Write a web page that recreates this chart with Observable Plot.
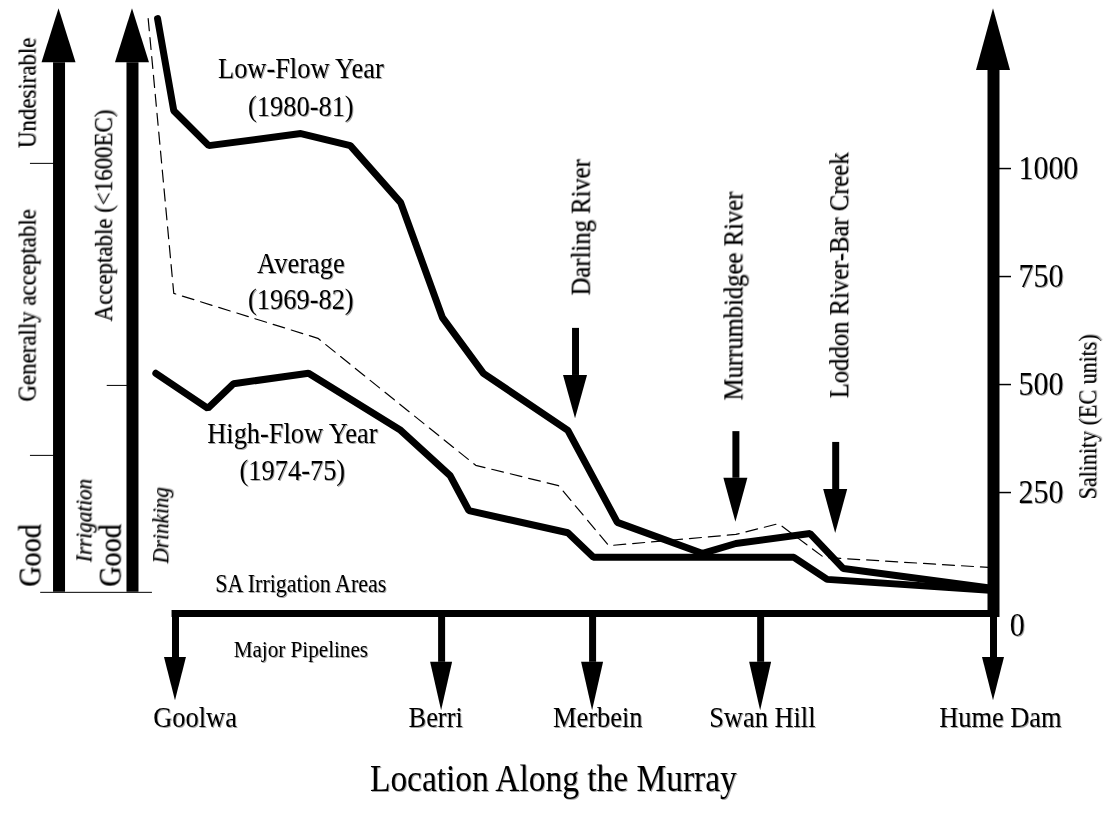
<!DOCTYPE html>
<html><head><meta charset="utf-8">
<script src="https://cdn.jsdelivr.net/npm/d3@7"></script>
<script src="https://cdn.jsdelivr.net/npm/@observablehq/plot@0.6"></script>
<style>
body{margin:0;background:#fff;}
#chart svg text{filter: drop-shadow(1.5px 1.5px 0.6px rgba(0,0,0,0.35));}
</style></head><body><div id="chart"></div>
<script>
// x = relative position along the Murray (0..100, Hume Dam = 100), y = salinity (EC units)
const lowFlowX  = [2.0, 3.9, 8.0, 18.8, 24.6, 30.5, 35.4, 40.2, 50.1, 55.9, 65.9, 69.8, 78.5, 82.4, 100];
const lowFlowY  = [1347, 1134, 1053, 1081, 1053, 921, 655, 526, 394, 181, 109, 132, 155, 74, 28];
const averageX  = [0.9, 3.9, 20.8, 39.3, 49.0, 54.9, 69.8, 74.8, 80.1, 100];
const averageY  = [1347, 711, 607, 313, 266, 127, 153, 178, 100, 76];
const highFlowX = [1.8, 7.9, 10.9, 19.7, 30.5, 36.3, 38.5, 50.1, 53.1, 76.6, 80.5, 100];
const highFlowY = [526, 445, 502, 526, 394, 289, 208, 157, 100, 100, 49, 23];

const locations      = ["Goolwa", "Berri", "Merbein", "Swan Hill", "Hume Dam"];
const locationLabelX = [6.4, 34.6, 53.6, 72.9, 100.8];
const pipelineX      = [4.1, 35.3, 53.0, 72.7, 100];
const pipelineBase   = [-132, -143, -143, -143, -132];
const pipelineTip    = [-232, -255, -255, -255, -232];

const yTicks = [250, 500, 750, 1000];

const tributaries = ["Darling River", "Murrumbidgee River", "Loddon River-Bar Creek"];
const tribX      = [51.0, 69.8, 81.5];
const tribTop    = [630, 391, 366];
const tribBase   = [521, 283, 257];
const tribTip    = [421, 181, 155];
const tribLabelX = [51.6, 69.5, 81.9];
const tribLabelY = [706, 463, 468];

// left quality scales (irrigation / drinking)
const scaleArrowX = [-9.55, -0.94];
const scaleBottom = 19, scaleHeadBase = 1245, scaleTip = 1370;
const irrigationTicks = [1012, 336];
const drinkingTicks = [498];
const axisHeadBase = 1227, axisTip = 1370;

const seriesLabels = [
  {t: "Low-Flow Year", x: 18.8, y: 1232}, {t: "(1980-81)", x: 18.8, y: 1144},
  {t: "Average", x: 18.8, y: 780}, {t: "(1969-82)", x: 18.8, y: 697},
  {t: "High-Flow Year", x: 17.8, y: 387}, {t: "(1974-75)", x: 17.8, y: 301}
];
const scaleLabels = [
  {t: "Undesirable", x: -13.25, y: 1175, s: 26},
  {t: "Generally acceptable", x: -13.25, y: 683, s: 26},
  {t: "Good", x: -12.9, y: 104, s: 32},
  {t: "Good", x: -3.5, y: 104, s: 32},
  {t: "Acceptable (<1600EC)", x: -4.3, y: 891, s: 26}
];
const scaleItalic = [
  {t: "Irrigation", x: -6.7, y: 185},
  {t: "Drinking", x: 2.3, y: 174}
];

const lowFlow  = lowFlowX.map((x, i) => ({x, y: lowFlowY[i]}));
const average  = averageX.map((x, i) => ({x, y: averageY[i]}));
const highFlow = highFlowX.map((x, i) => ({x, y: highFlowY[i]}));

const heads = [
  ...pipelineX.map((x, i) => ({x, base: pipelineBase[i], tip: pipelineTip[i], w: 22})),
  ...tribX.map((x, i) => ({x, base: tribBase[i], tip: tribTip[i], w: 24})),
  ...scaleArrowX.map(x => ({x, base: scaleHeadBase, tip: scaleTip, w: 34})),
  {x: 100, base: axisHeadBase, tip: axisTip, w: 34}
];
const headMark = (index, scales) => {
  const g = d3.create("svg:g");
  for (const h of heads) {
    const x = scales.x(h.x), yb = scales.y(h.base), yt = scales.y(h.tip);
    g.append("path").attr("d", `M${x - h.w / 2},${yb}L${x + h.w / 2},${yb}L${x},${yt}Z`).attr("fill", "#000");
  }
  return g.node();
};

const plot = Plot.plot({
  width: 1106, height: 813,
  marginTop: 0, marginBottom: 200, marginLeft: 140, marginRight: 113,
  style: {fontFamily: "'Liberation Serif', 'Times New Roman', serif", fontSize: "28px", background: "#fff", color: "#000", overflow: "visible"},
  x: {domain: [0, 100]},
  y: {domain: [-30, 1389]},
  marks: [
    Plot.axisY(yTicks, {anchor: "right", tickSize: 17, tickPadding: 8, fontSize: 34, strokeWidth: 1.5, label: null,
      tickFormat: d => String(d)}),
    Plot.axisX(locationLabelX, {anchor: "bottom", tickSize: 0, tickPadding: 92, fontSize: 30,
      tickFormat: d => locations[locationLabelX.indexOf(d)], label: null}),
    // series
    Plot.line(average, {x: "x", y: "y", stroke: "#000", strokeWidth: 1.2, strokeDasharray: "12,7"}),
    Plot.line(highFlow, {x: "x", y: "y", stroke: "#000", strokeWidth: 7, strokeLinejoin: "miter"}),
    Plot.line(lowFlow, {x: "x", y: "y", stroke: "#000", strokeWidth: 7, strokeLinejoin: "miter"}),
    // x baseline and right axis shaft
    Plot.ruleY([-30], {x1: pipelineX[0] - 0.4, x2: 100.5, stroke: "#000", strokeWidth: 7}),
    Plot.ruleX([100], {y1: -39, y2: axisHeadBase, stroke: "#000", strokeWidth: 12}),
    // pipelines
    Plot.ruleX(pipelineX, {x: d => d, y1: -30, y2: (d, i) => pipelineBase[i], stroke: "#000", strokeWidth: 7}),
    // tributaries
    Plot.ruleX(tribX, {x: d => d, y1: (d, i) => tribTop[i], y2: (d, i) => tribBase[i], stroke: "#000", strokeWidth: 7}),
    Plot.text(tributaries, {x: (d, i) => tribLabelX[i], y: (d, i) => tribLabelY[i], text: d => d, rotate: -90,
      textAnchor: "start", lineAnchor: "middle", fontSize: 28}),
    // left scales
    Plot.ruleX(scaleArrowX, {x: d => d, y1: scaleBottom, y2: scaleHeadBase, stroke: "#000", strokeWidth: 12}),
    Plot.ruleY(irrigationTicks, {y: d => d, x1: -12.9, x2: -9.6, stroke: "#000", strokeWidth: 1}),
    Plot.ruleY(drinkingTicks, {y: d => d, x1: -3.9, x2: -0.9, stroke: "#000", strokeWidth: 1}),
    Plot.ruleY([scaleBottom], {x1: -11.7, x2: 1.4, stroke: "#000", strokeWidth: 1}),
    Plot.text(scaleLabels, {x: "x", y: "y", text: "t", fontSize: "s", rotate: -90, lineAnchor: "middle"}),
    Plot.text(scaleItalic, {x: "x", y: "y", text: "t", fontSize: 24, fontStyle: "italic", rotate: -90, lineAnchor: "middle"}),
    headMark,
    // labels
    Plot.text(seriesLabels, {x: "x", y: "y", text: "t", fontSize: 30, lineAnchor: "middle"}),
    Plot.text(["SA Irrigation Areas"], {x: 18.8, y: 39, text: d => d, fontSize: 25, lineAnchor: "middle"}),
    Plot.text(["Major Pipelines"], {x: 18.8, y: -112, text: d => d, fontSize: 24, lineAnchor: "middle"}),
    Plot.text(["0"], {x: 101.9, y: -58, text: d => d, fontSize: 34, textAnchor: "start", lineAnchor: "middle"}),
    Plot.text(["Salinity (EC units)"], {x: 111.1, y: 425, text: d => d, fontSize: 25, rotate: -90, lineAnchor: "middle"}),
    Plot.text(["Location Along the Murray"], {x: 48.4, y: -412, text: d => d, fontSize: 38, lineAnchor: "middle"})
  ]
});
document.getElementById("chart").append(plot);
plot.querySelectorAll("text").forEach(t => {
  if (t.querySelector("tspan")) return;
  const L = t.getComputedTextLength();
  if (L > 0) { t.setAttribute("textLength", (L * 0.88).toFixed(1)); t.setAttribute("lengthAdjust", "spacingAndGlyphs"); }
});
</script></body></html>
